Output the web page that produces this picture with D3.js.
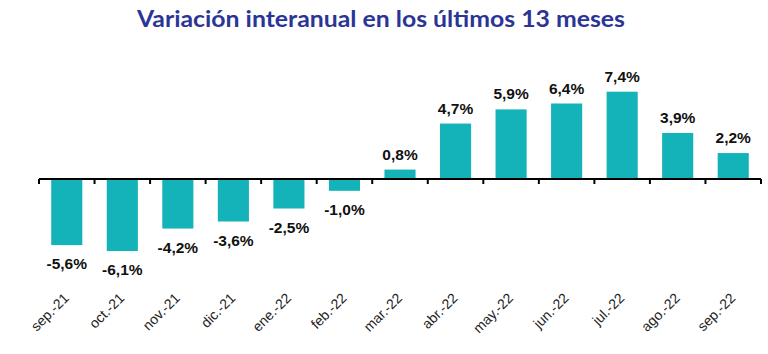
<!DOCTYPE html>
<html>
<head>
<meta charset="utf-8">
<script src="https://cdn.jsdelivr.net/npm/d3@7"></script>
<style>
  body { margin: 0; background: #fff; }
  svg { display: block; }
</style>
</head>
<body>
<div id="chart"></div>
<script>
// Chart data.
var months = ["sep.-21", "oct.-21", "nov.-21", "dic.-21", "ene.-22", "feb.-22", "mar.-22",
  "abr.-22", "may.-22", "jun.-22", "jul.-22", "ago.-22", "sep.-22"];
var values = [-5.6, -6.1, -4.2, -3.6, -2.5, -1.0, 0.8, 4.7, 5.9, 6.4, 7.4, 3.9, 2.2];
var title = "Variación interanual en los últimos 13 meses";

var width = 768;
var height = 354;

var svg = d3.select("#chart").append("svg")
  .attr("width", width)
  .attr("height", height);

// Scales.
var xScale = d3.scaleBand()
  .domain(months)
  .range([39, 761])
  .paddingInner(0.44)
  .paddingOuter(0.22);

var yScale = d3.scaleLinear()
  .domain([-6.1, 7.4])
  .range([251, 91.7]);

// Title.
svg.append("text")
  .attr("x", 381)
  .attr("y", 27)
  .attr("text-anchor", "middle")
  .attr("textLength", 488)
  .attr("lengthAdjust", "spacingAndGlyphs")
  .style("font-family", "Lato, sans-serif")
  .style("font-weight", "bold")
  .style("font-size", "23px")
  .style("fill", "#2b3595")
  .text(title);

// Bars.
svg.append("g").selectAll("rect")
  .data(values)
  .join("rect")
  .attr("x", function(d, i) { return xScale(months[i]); })
  .attr("width", xScale.bandwidth())
  .attr("y", function(d) { return yScale(Math.max(0, d)); })
  .attr("height", function(d) { return Math.abs(yScale(d) - yScale(0)); })
  .attr("fill", "#14b3b9");

// Value labels.
svg.append("g").selectAll("text")
  .data(values)
  .join("text")
  .attr("x", function(d, i) { return xScale(months[i]) + xScale.bandwidth() / 2; })
  .attr("y", function(d) { return d >= 0 ? yScale(d) - 10 : yScale(d) + 24; })
  .attr("text-anchor", "middle")
  .style("font-family", "Liberation Sans, Arial, sans-serif")
  .style("font-weight", "bold")
  .style("font-size", "15.5px")
  .style("fill", "#111")
  .text(function(d) { return d.toFixed(1).replace(".", ",") + "%"; });

// Axis at zero with category labels.
var tickScale = d3.scaleLinear().domain([0, months.length]).range(xScale.range());

var axis = svg.append("g")
  .attr("transform", "translate(0," + yScale(0) + ")");

axis.append("line")
  .attr("x1", xScale.range()[0])
  .attr("x2", xScale.range()[1])
  .attr("stroke", "#000")
  .attr("stroke-width", 2);

axis.selectAll(".tick")
  .data(d3.range(months.length + 1))
  .join("line")
  .attr("class", "tick")
  .attr("x1", function(d) { return tickScale(d); })
  .attr("x2", function(d) { return tickScale(d); })
  .attr("y1", 0)
  .attr("y2", 5)
  .attr("stroke", "#000")
  .attr("stroke-width", 2);

svg.append("g").selectAll("text")
  .data(months)
  .join("text")
  .attr("transform", function(d) {
    return "translate(" + (xScale(d) + xScale.bandwidth() / 2 + 3) + ",299) rotate(-45)";
  })
  .attr("text-anchor", "end")
  .style("font-family", "Liberation Sans, Arial, sans-serif")
  .style("font-size", "14px")
  .style("fill", "#222")
  .text(function(d) { return d; });
</script>
</body>
</html>
